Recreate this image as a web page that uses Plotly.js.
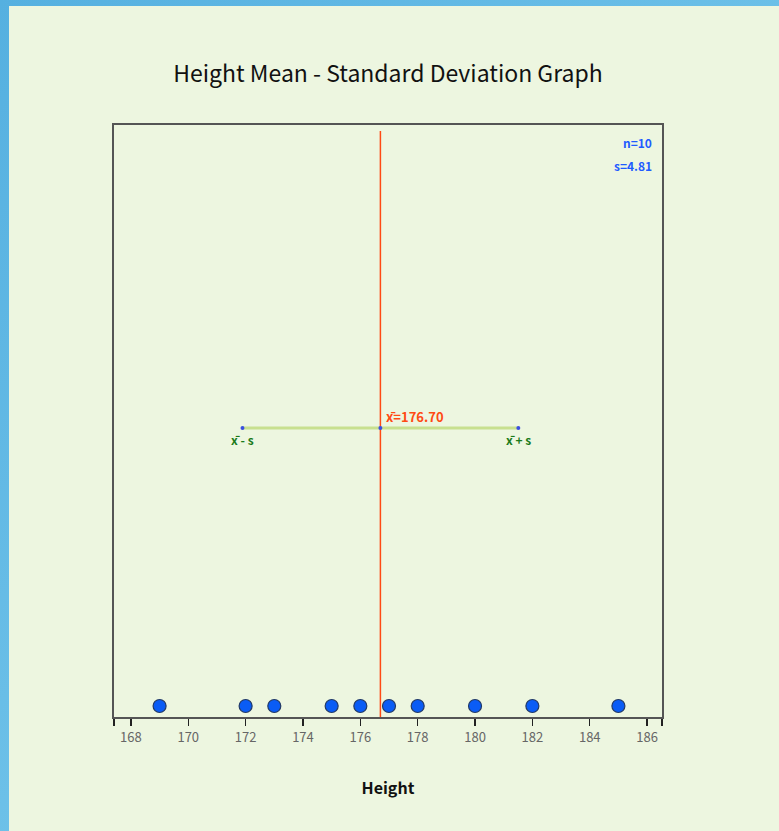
<!DOCTYPE html>
<html>
<head>
<meta charset="utf-8">
<script src="https://cdn.plot.ly/plotly-3.0.1.min.js"></script>
<style>
  html, body { margin:0; padding:0; width:779px; height:831px; overflow:hidden;
    background: linear-gradient(135deg, #55b0e0 0%, #6cc0e8 50%, #86cdee 100%); }
  #chart { position:absolute; left:9px; top:6px; width:770px; height:825px; }
</style>
</head>
<body>
<div id="chart"></div>
<script>
const heights = [169, 172, 173, 175, 176, 177, 178, 180, 182, 185];
const meanVal = 176.70;
const sdVal = 4.81;
const nVal = 10;
const tickValues = [168, 170, 172, 174, 176, 178, 180, 182, 184, 186];
const tickLabels = ['168', '170', '172', '174', '176', '178', '180', '182', '184', '186'];
const xRange = [167.41, 186.52];

const FONT = '"Noto Sans CJK KR", "Noto Sans", sans-serif';

const pointY = heights.map(() => 0.0186);
const barY = 0.488;

const traces = [
  { x: [meanVal - sdVal, meanVal + sdVal], y: [barY, barY], mode: 'lines',
    line: { color: '#c8e08f', width: 3 }, hoverinfo: 'skip', showlegend: false },
  { x: [meanVal, meanVal], y: [0, 0.99], mode: 'lines',
    line: { color: '#ff4a14', width: 1.5 }, hoverinfo: 'skip', showlegend: false },
  { x: [meanVal - sdVal, meanVal, meanVal + sdVal], y: [barY, barY, barY], mode: 'markers',
    marker: { color: '#3a4fe0', size: 4 }, showlegend: false },
  { x: heights, y: pointY, mode: 'markers',
    marker: { color: '#0a5cf5', size: 13, line: { color: '#233a66', width: 1.2 } }, showlegend: false }
];

const allTicks = [xRange[0]].concat(tickValues, [xRange[1]]);
const allLabels = [''].concat(tickLabels, ['']);

const layout = {
  width: 770, height: 825,
  paper_bgcolor: '#edf6e0', plot_bgcolor: '#edf6e0',
  margin: { l: 105, r: 117, t: 119, b: 114 },
  font: { family: FONT },
  title: { text: 'Height Mean - Standard Deviation Graph', x: 0.5, xref: 'paper',
    y: 0.918, yref: 'container', yanchor: 'middle',
    font: { family: FONT, size: 23, color: '#111' } },
  xaxis: {
    range: xRange, tickvals: allTicks, ticktext: allLabels,
    ticks: 'outside', ticklen: 7, tickcolor: '#222', tickwidth: 1.5,
    showline: true, linecolor: '#555', linewidth: 2, mirror: true,
    showgrid: false, zeroline: false,
    tickfont: { family: FONT, size: 13, color: '#666' },
    title: { text: '<b>Height</b>', standoff: 38, font: { family: FONT, size: 16, color: '#111' } }
  },
  yaxis: {
    range: [0, 1], showticklabels: false, ticks: '',
    showline: true, linecolor: '#555', linewidth: 2, mirror: true,
    showgrid: false, zeroline: false
  },
  annotations: [
    { x: 0.985, y: 0.97, xref: 'paper', yref: 'paper', xanchor: 'right', yanchor: 'middle',
      text: '<b>n=' + nVal + '</b>', showarrow: false, font: { family: FONT, size: 12, color: '#1f5cff' } },
    { x: 0.985, y: 0.931, xref: 'paper', yref: 'paper', xanchor: 'right', yanchor: 'middle',
      text: '<b>s=' + sdVal.toFixed(2) + '</b>', showarrow: false, font: { family: FONT, size: 12, color: '#1f5cff' } },
    { x: meanVal, y: barY + 0.02, xref: 'x', yref: 'y', xanchor: 'left', yanchor: 'middle', xshift: 4,
      text: '<b>x̄=' + meanVal.toFixed(2) + '</b>', showarrow: false, font: { family: FONT, size: 13, color: '#ff4a14' } },
    { x: meanVal - sdVal, y: barY - 0.02, xref: 'x', yref: 'y', xanchor: 'center', yanchor: 'middle',
      text: '<b>x̄ - s</b>', showarrow: false, font: { family: FONT, size: 12, color: '#1a7a1a' } },
    { x: meanVal + sdVal, y: barY - 0.02, xref: 'x', yref: 'y', xanchor: 'center', yanchor: 'middle',
      text: '<b>x̄ + s</b>', showarrow: false, font: { family: FONT, size: 12, color: '#1a7a1a' } }
  ]
};

Plotly.newPlot('chart', traces, layout, { displayModeBar: false, staticPlot: true });
</script>
</body>
</html>
